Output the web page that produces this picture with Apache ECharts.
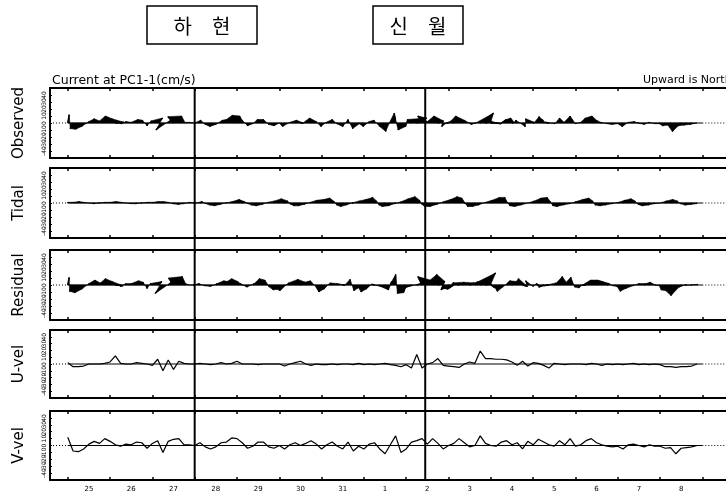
<!DOCTYPE html>
<html>
<head>
<meta charset="utf-8">
<script src="https://cdn.jsdelivr.net/npm/echarts@6/dist/echarts.min.js"></script>
<style>
  html, body { margin: 0; padding: 0; background: #fff; }
  #chart { width: 726px; height: 498px; }
</style>
</head>
<body>
<div id="chart"></div>
<script>
// sampling: 3-hourly, starting 25th 00h
var startDay = 25;
var perDay = 8;

// x axis: day boundaries and labels (25..31, then 1..8 of next month)
var dayTicks = [25, 26, 27, 28, 29, 30, 31, 32, 33, 34, 35, 36, 37, 38, 39, 40];
var dayLabels = ['25', '26', '27', '28', '29', '30', '31', '1', '2', '3', '4', '5', '6', '7', '8'];
var panelNames = ['Observed', 'Tidal', 'Residual', 'U-vel', 'V-vel'];

// moon phase lines (하현 / 신월)
var moonDays = [28.0, 33.45];
var moonNames = ['하　현', '신　월'];

// observed east (U) and north (V) velocity, cm/s
var obsU = [
  2, -4, -4, -3, 0, 0, 0, 1,        // 25
  3, 12, 1, 0, 0, 2, 1, 0,          // 26
  -2, 7, -10, 6, -8, 4, 1, 0,       // 27
  0, 1, 0, -1, 0, 2, 0, 1,          // 28
  4, 0, 0, 0, -1, 0, 0, 0,          // 29
  0, -3, 0, 2, 4, 0, -2, 0,         // 30
  -1, -1, 0, -1, 0, 0, -1, 1,       // 31
  -1, 0, -1, 0, 1, -1, -2, -4,      // 1
  -1, -6, 14, -6, 0, 2, 8, -2,      // 2
  -3, -4, -5, 0, 3, 1, 19, 8,       // 3
  8, 7, 7, 6, 3, -2, 4, -3,         // 4
  2, 1, -2, -6, 1, 0, -1, 0,        // 5
  0, 0, -1, 1, 0, -2, 0, -1,        // 6
  0, -1, 0, 1, -1, 0, -1, 0,        // 7
  -1, -4, -4, -5, -4, -4, -3, 0     // 8
];
var obsV = [
  12, -8, -9, -5, 2, 6, 3, 10,
  6, 1, -1, 2, 1, 5, 4, -4,
  3, 7, -10, 6, 9, 10, 1, 1,
  0, 4, -2, -5, -2, 4, 5, 11,
  10, 4, -4, -1, 5, 5, -2, -4,
  0, -5, 1, 4, 0, 3, 7, 2,
  -5, 1, 5, -1, -5, 5, -8, -1,
  -5, 2, 4, -5, -12, 1, 14, -10,
  -5, 5, 7, 10, 2, 10, 3, -5,
  0, 3, 10, 4, -2, 0, 14, 3,
  0, -1, 5, 7, 1, 4, -5, 6,
  1, 9, 5, 1, -1, 7, 1, 10,
  -1, 1, 7, 10, 4, 1, -1, -2,
  -1, -5, 1, 2, 0, -2, 1, -1,
  -1, -4, -3, -12, -4, -3, -2, 0
];

// tidal part
var tideU = [
  0, 1, 1, 0, 0, -1, -1, 0,
  0, 1, 1, 0, 0, -1, -1, 0,
  1, 1, 1, 0, -1, -1, -1, 0,
  2, 3, 1, -1, -2, -2, -1, 1,
  3, 3, 1, -2, -3, -2, -1, 1,
  3, 4, 2, -2, -3, -3, -1, 1,
  3, 4, 3, -1, -3, -3, -2, 1,
  3, 5, 3, -1, -4, -3, -2, 1,
  3, 5, 4, 0, -4, -4, -2, 1,
  3, 5, 4, 1, -3, -4, -3, 0,
  2, 5, 5, 1, -3, -4, -3, 0,
  2, 4, 5, 2, -2, -4, -3, -1,
  1, 3, 4, 2, -2, -3, -3, -1,
  1, 3, 4, 2, -1, -3, -2, -1,
  0, 2, 3, 2, -1, -2, -2, -1
];
var tideV = [
  1, 1, 2, 1, 0, -1, 0, 1,
  1, 2, 1, 0, -1, -1, 0, 1,
  1, 2, 2, 1, -1, -2, -1, 1,
  0, 2, -1, -3, -4, -2, 0, 2,
  5, 2, -1, -3, -4, -2, 1, 3,
  6, 3, -2, -4, -4, -2, 1, 4,
  5, 7, 2, -3, -5, -3, 0, 3,
  5, 8, 3, -3, -5, -4, -1, 2,
  6, 9, 4, -2, -5, -5, -2, 2,
  5, 9, 7, 0, -5, -5, -3, 1,
  4, 8, 8, 1, -4, -5, -3, 0,
  3, 7, 8, 2, -4, -5, -3, -1,
  2, 5, 7, 3, -3, -4, -3, -1,
  1, 4, 6, 3, -2, -4, -3, -1,
  0, 3, 5, 3, -1, -3, -2, -1
];

// residual (non-tidal) part
var resU = [
  2, -5, -5, -3, 0, 1, 1, 1,
  3, 11, 0, 0, 0, 3, 2, 0,
  -3, 6, -11, 6, -7, 5, 2, 0,
  -2, -2, -1, 0, 2, 4, 1, 0,
  1, -3, -1, 2, 2, 2, 1, -1,
  -3, -7, -2, 4, 7, 3, -1, -1,
  -4, -5, -3, 0, 3, 3, 1, 0,
  -4, -5, -4, 1, 5, 2, 0, -5,
  -4, -11, 10, -6, 4, 6, 10, -3,
  -6, -9, -9, -1, 6, 5, 22, 8,
  6, 2, 2, 5, 6, 2, 7, -3,
  0, -3, -7, -8, 3, 4, 2, 1,
  -1, -3, -5, -1, 2, 1, 3, 0,
  -1, -4, -4, -1, 0, 3, 1, 1,
  -1, -6, -7, -7, -3, -2, -1, 1
];
var resV = [
  11, -9, -11, -6, 2, 7, 3, 9,
  5, -1, -2, 2, 2, 6, 4, -5,
  2, 5, -12, 5, 10, 12, 2, 0,
  0, 2, -1, -2, 2, 6, 5, 9,
  5, 2, -3, 2, 9, 7, -3, -7,
  -6, -8, 3, 8, 4, 5, 6, -2,
  -10, -6, 3, 2, 0, 8, -8, -4,
  -10, -6, 1, -2, -7, 5, 15, -12,
  -11, -4, 3, 12, 7, 15, 5, -7,
  -5, -6, 3, 4, 3, 5, 17, 2,
  -4, -9, -3, 6, 5, 9, -2, 6,
  -2, 2, -3, -1, 3, 12, 4, 11,
  -3, -4, 0, 7, 7, 5, 2, -1,
  -2, -9, -5, -1, 2, 2, 4, 0,
  -1, -7, -8, -15, -3, 0, 0, 1
];

var times = obsU.map(function (d, j) { return startDay + j / perDay; });
var dataStart = 25, dataEnd = 40;
var xMin = 24.58, xMax = 40.56;

var panelTops = [88, 168, 250, 330, 411];
var panelH = [70, 70, 70, 68, 69];
var labelDays = dayTicks.slice(0, 15).map(function (d) { return d + 0.5; });

var myChart = echarts.init(document.getElementById('chart'));

// each item carries this stick and the next one, so the gap between can be filled
function sticks(u, v) {
    return times.map(function (t, j) {
        var n = Math.min(j + 1, times.length - 1);
        return [t, u[j], v[j], times[n], u[n], v[n]];
    });
}
function pairs(v) {
    return times.map(function (t, j) { return [t, v[j]]; });
}

// dense stick plot: sticks from the zero line (north up / east right), gaps filled
function stickItem(params, api) {
    var k = api.size([0, 1])[1];
    var a0 = api.coord([api.value(0), 0]);
    var a1 = api.coord([api.value(0), api.value(2)]);
    var b0 = api.coord([api.value(3), 0]);
    var b1 = api.coord([api.value(3), api.value(5)]);
    var ta = [a0[0] + api.value(1) * k, a1[1]];
    var tb = [b0[0] + api.value(4) * k, b1[1]];
    return {
        type: 'group',
        children: [{
            type: 'polygon',
            shape: {points: [a0, ta, tb, b0]},
            style: {fill: '#000', stroke: '#000', lineWidth: 0.6}
        }, {
            type: 'line',
            shape: {x1: a0[0], y1: a0[1], x2: ta[0], y2: ta[1]},
            style: {stroke: '#000', lineWidth: 1.4}
        }]
    };
}

var grids = [], xAxes = [], yAxes = [], series = [];

function zeroLine(i, a, b, dotted, z) {
    return {
        type: 'line', xAxisIndex: 2 * i, yAxisIndex: i, silent: true, symbol: 'none',
        data: [[a, 0], [b, 0]],
        lineStyle: {color: '#000', width: 1, type: dotted ? [1, 2] : 'solid'}, z: z
    };
}

panelTops.forEach(function (top, i) {
    grids.push({left: 50, width: 686, top: top, height: panelH[i], show: false});
    ['bottom', 'top'].forEach(function (pos) {
        xAxes.push({
            gridIndex: i,
            type: 'value',
            position: pos,
            min: xMin,
            max: xMax,
            axisLine: {show: true, onZero: false, lineStyle: {color: '#000', width: 2}},
            axisTick: {show: true, inside: true, length: 3, customValues: dayTicks, lineStyle: {color: '#000', width: 1.5}},
            axisLabel: {
                show: pos === 'bottom' && i === 4,
                customValues: labelDays,
                margin: 6,
                fontSize: 7,
                fontFamily: 'DejaVu Sans',
                color: '#000',
                formatter: function (val) {
                    return dayLabels[Math.round(val - 25.5)] || '';
                }
            },
            splitLine: {show: false}
        });
    });
    yAxes.push({
        gridIndex: i,
        type: 'value',
        min: -50,
        max: 50,
        interval: 10,
        axisLine: {show: true, lineStyle: {color: '#000', width: 2}},
        axisTick: {show: true, inside: true, length: 2, lineStyle: {color: '#000'}},
        axisLabel: {fontSize: 6, rotate: 90, margin: 3, color: '#000', fontFamily: 'DejaVu Sans'},
        splitLine: {show: false}
    });

    // zero line: dotted outside the record, solid inside
    series.push(zeroLine(i, xMin, dataStart, true, 1));
    series.push(zeroLine(i, dataStart, dataEnd, false, 1));
    series.push(zeroLine(i, dataEnd, xMax, true, 1));
});

// stick panels
[[obsU, obsV], [tideU, tideV], [resU, resV]].forEach(function (uv, i) {
    series.push({
        name: panelNames[i],
        type: 'custom',
        xAxisIndex: 2 * i,
        yAxisIndex: i,
        clip: true,
        renderItem: stickItem,
        encode: {x: 0, y: 2},
        data: sticks(uv[0], uv[1]),
        z: 3
    });
});

// component lines
[obsU, obsV].forEach(function (v, k) {
    var i = 3 + k;
    series.push({
        name: panelNames[i],
        type: 'line',
        xAxisIndex: 2 * i,
        yAxisIndex: i,
        symbol: 'none',
        data: pairs(v),
        lineStyle: {color: '#000', width: 1.2},
        z: 3
    });
});

// overlay grid for the moon-phase lines across all panels
grids.push({left: 50, width: 686, top: 88, height: 392, show: false});
xAxes.push({gridIndex: 5, type: 'value', min: xMin, max: xMax, show: false});
yAxes.push({gridIndex: 5, type: 'value', min: 0, max: 1, show: false});
series.push({
    type: 'custom',
    xAxisIndex: 10,
    yAxisIndex: 5,
    silent: true,
    renderItem: function (params, api) {
        var a = api.coord([api.value(0), 0]);
        var b = api.coord([api.value(0), 1]);
        return {type: 'line', shape: {x1: a[0], y1: a[1], x2: b[0], y2: b[1]}, style: {stroke: '#000', lineWidth: 2}};
    },
    encode: {x: 0},
    data: moonDays.map(function (d) { return [d]; }),
    z: 5
});

// texts
var graphics = [
    {type: 'text', left: 52, top: 74, style: {text: 'Current at PC1-1(cm/s)', font: '12.5px "DejaVu Sans"', fill: '#000'}},
    {type: 'text', left: 643, top: 75, style: {text: 'Upward is North', font: '11px "DejaVu Sans"', fill: '#000'}}
];
panelTops.forEach(function (top, i) {
    graphics.push({
        type: 'text',
        x: 19,
        y: top + panelH[i] / 2,
        rotation: Math.PI / 2,
        style: {text: panelNames[i], font: '15px "DejaVu Sans"', fill: '#000', align: 'center', verticalAlign: 'middle'}
    });
});
var boxes = [[147, 110], [373, 90]];
boxes.forEach(function (b, i) {
    graphics.push({
        type: 'rect',
        shape: {x: b[0], y: 6, width: b[1], height: 38},
        style: {fill: '#fff', stroke: '#000', lineWidth: 1.5}
    });
    graphics.push({
        type: 'text',
        x: b[0] + b[1] / 2,
        y: 26,
        style: {text: moonNames[i], font: '20px "Noto Sans CJK KR"', fill: '#000', align: 'center', verticalAlign: 'middle'}
    });
});

myChart.setOption({
    animation: false,
    backgroundColor: '#fff',
    grid: grids,
    xAxis: xAxes,
    yAxis: yAxes,
    series: series,
    graphic: graphics
});
</script>
</body>
</html>
